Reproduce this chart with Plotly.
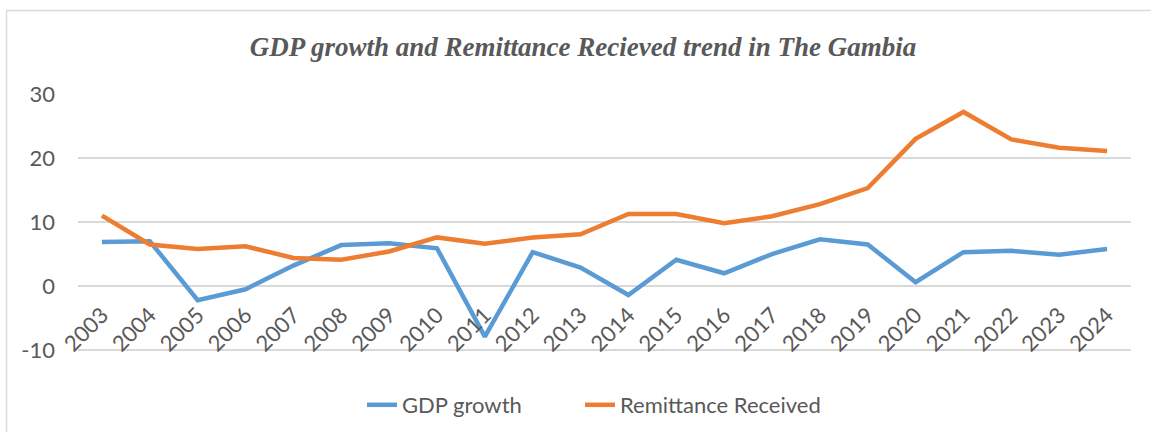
import plotly.graph_objects as go

years = [str(y) for y in range(2003, 2025)]
gdp_growth = [6.9, 7.0, -2.2, -0.5, 3.2, 6.4, 6.7, 5.9, -7.9, 5.3, 2.9, -1.4,
              4.1, 2.0, 5.0, 7.3, 6.5, 0.6, 5.3, 5.5, 4.9, 5.8]
remittance = [11.0, 6.5, 5.8, 6.2, 4.4, 4.1, 5.4, 7.6, 6.6, 7.6, 8.1, 11.25,
              11.25, 9.8, 10.9, 12.8, 15.3, 23.0, 27.2, 22.9, 21.6, 21.1]
y_ticks = [-10, 0, 10, 20, 30]
y_tick_labels = ["-10", "0", "10", "20", "30"]

TXT = "#595959"
GRID = "#d9d9d9"
FONT = "Lato"

fig = go.Figure()
fig.add_trace(go.Scatter(x=years, y=gdp_growth, mode="lines", name="GDP growth",
                         line=dict(color="#5B9BD5", width=4.5), legend="legend"))
fig.add_trace(go.Scatter(x=years, y=remittance, mode="lines", name="Remittance Received",
                         line=dict(color="#ED7D31", width=4.5), legend="legend2"))

YMIN, YMAX = -10.3, 30
PX_PER_UNIT = 6.4
W, H = 1151, 432
L, R, T = 78, 20, 94
B = H - (T + (YMAX - YMIN) * PX_PER_UNIT)
pw, ph = W - L - R, H - T - B

# chart-area border (Excel style)
fig.add_shape(type="rect", xref="paper", yref="paper",
              x0=(6.5 - L) / pw, x1=(W + 5 - L) / pw,
              y0=(H - B - (H + 5)) / ph, y1=(H - B - 10.5) / ph,
              line=dict(color=GRID, width=1.5), fillcolor="rgba(0,0,0,0)", layer="below")

leg_common = dict(orientation="h", xref="container", xanchor="left",
                  y=1 - 405 / H, yref="container", yanchor="middle",
                  font=dict(family=FONT, size=22, color=TXT),
                  itemwidth=30, bgcolor="rgba(0,0,0,0)")

fig.update_layout(
    width=W, height=H,
    margin=dict(l=L, r=R, t=T, b=B, autoexpand=False),
    paper_bgcolor="white", plot_bgcolor="white",
    font=dict(family=FONT, color=TXT, size=22),
    title=dict(text="<b><i>GDP growth and Remittance Recieved trend in The Gambia</i></b>",
               x=583 / W, xanchor="center", xref="container",
               y=1 - 47 / H, yanchor="middle", yref="container",
               font=dict(family="Liberation Serif", size=27, color=TXT)),
    showlegend=True,
    legend=dict(x=(402 - 40) / W, **leg_common),
    legend2=dict(x=(620 - 40) / W, **leg_common),
    xaxis=dict(type="category", range=[-0.5, 21.5], anchor="free",
               position=(0 - YMIN) / (YMAX - YMIN),
               automargin=False,
               showgrid=False, showline=False, zeroline=False, ticks="",
               ticklabelstandoff=11,
               tickangle=-45, tickfont=dict(family=FONT, size=22, color=TXT)),
    yaxis=dict(range=[YMIN, YMAX], tickvals=y_ticks, ticktext=y_tick_labels,
               automargin=False, showgrid=True, gridcolor=GRID,
               gridwidth=1.5, zeroline=False, showline=False, ticks="",
               ticklabelstandoff=22,
               tickfont=dict(family=FONT, size=22, color=TXT)),
)

fig.write_html("out.html")
